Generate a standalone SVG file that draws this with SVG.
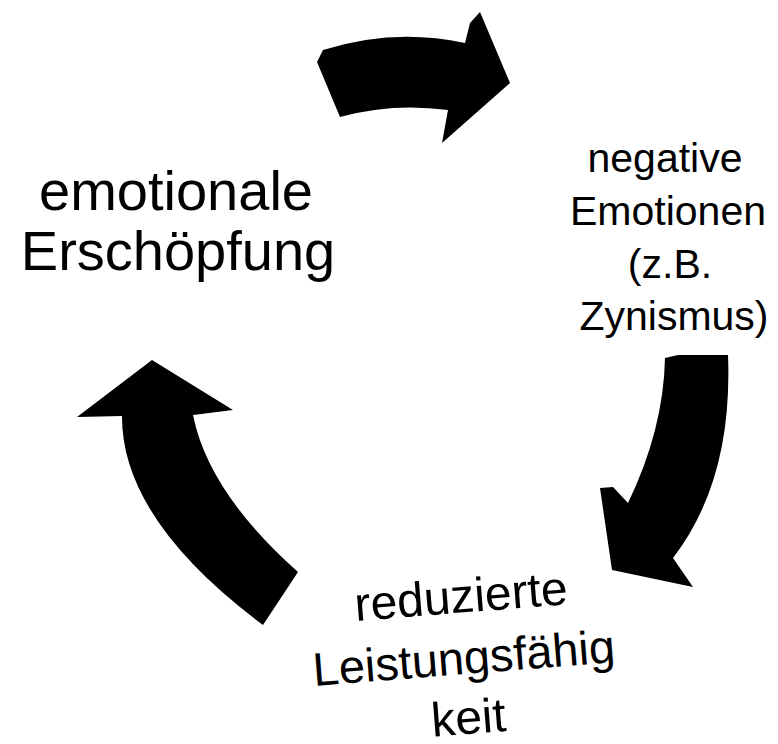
<svg xmlns="http://www.w3.org/2000/svg" width="778" height="744" viewBox="0 0 778 744">
<style>
.lbl{font-family:"Liberation Sans",Arial,sans-serif;fill:#000;text-anchor:middle}
.arrow{fill:#000;stroke:none}
</style>
<rect width="778" height="744" fill="#fff"/>
<g id="connectors">
<path class="arrow" d="M 323 50 L 317 62 L 340 117 Q 392 102.5 448 110 L 442 143 L 510 83 L 480 12 L 470 23 L 465 43 Q 394 27.5 323 50 Z"/>
<path class="arrow" d="M 665 358 L 678 355 L 728 355 Q 733 480 673 558 L 693 587 L 612 570 L 600 488 L 613 487 L 628 503 Q 663.5 429.5 665 358 Z"/>
<path class="arrow" d="M 152 360 L 77 417 L 122 416 Q 121.5 519.5 263 625 L 298 572 Q 208.5 492.5 193 415 L 233 410 Z"/>
</g>
<g id="node-erschoepfung">
<text class="lbl" x="176" y="210" font-size="56">emotionale</text>
<text class="lbl" x="178" y="270" font-size="56">Erschöpfung</text>
</g>
<g id="node-negative">
<text class="lbl" x="665" y="172" font-size="41">negative</text>
<text class="lbl" x="668" y="225" font-size="41">Emotionen</text>
<text class="lbl" x="670" y="278" font-size="41">(z.B.</text>
<text class="lbl" x="674" y="330" font-size="41">Zynismus)</text>
</g>
<g id="node-leistung" transform="rotate(-4.5 465 674)">
<text class="lbl" x="467" y="612.5" font-size="48">reduzierte</text>
<text class="lbl" x="465" y="674" font-size="47">Leistungsfähig</text>
<text class="lbl" x="465" y="734" font-size="48">keit</text>
</g>
</svg>
